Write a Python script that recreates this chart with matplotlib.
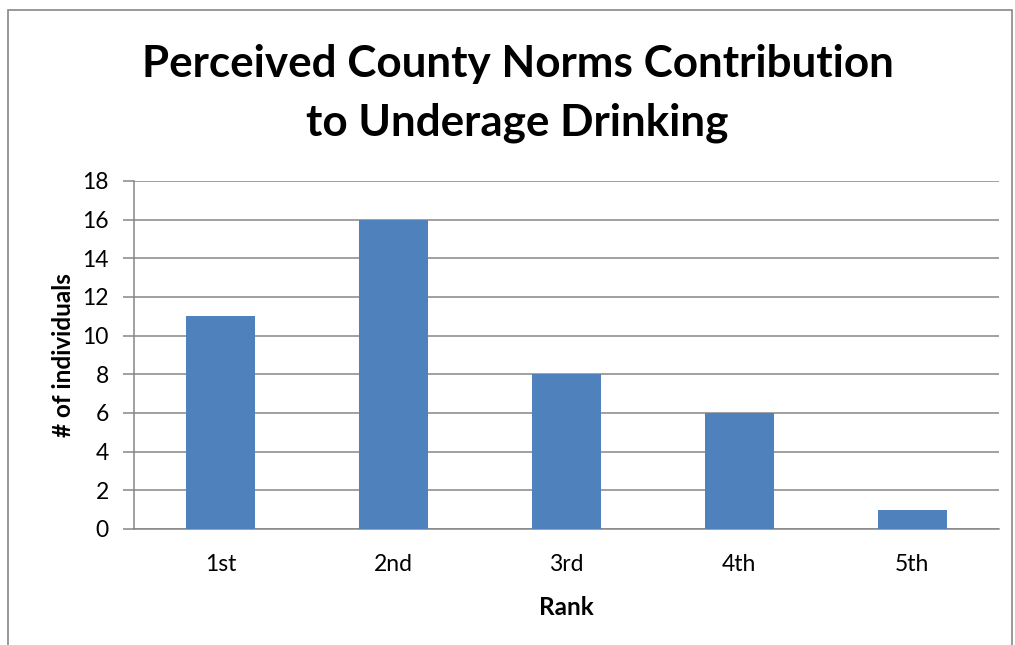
import matplotlib.pyplot as plt
from matplotlib.patches import Rectangle

ranks = ["1st", "2nd", "3rd", "4th", "5th"]
counts = [11, 16, 8, 6, 1]

plt.rcParams['font.family'] = ['Lato', 'DejaVu Sans']

fig = plt.figure(figsize=(10.15, 6.45), dpi=100)
ax = fig.add_axes([0.132, 0.180, 0.852, 0.5394])

grid_c = "#868686"
ax.bar(range(len(ranks)), counts, width=0.4, color="#4f81bd", zorder=3)
ax.set_xlim(-0.5, len(ranks) - 0.5)
ax.set_ylim(0, 18)
ax.set_yticks(range(0, 19, 2))
ax.set_xticks(range(len(ranks)))
ax.set_xticklabels(ranks)
ax.yaxis.grid(True, color=grid_c, linewidth=1.1, zorder=0)
for s in ["top", "right"]:
    ax.spines[s].set_visible(False)
for s in ["left", "bottom"]:
    ax.spines[s].set_color(grid_c)
    ax.spines[s].set_linewidth(1.1)
ax.tick_params(axis="y", length=8, width=1.1, color=grid_c, labelsize=16.5, pad=10)
ax.tick_params(axis="x", length=0, labelsize=16.5, pad=18)

ax.set_xlabel("Rank", fontsize=17.5, fontweight="bold", labelpad=15)
ax.set_ylabel("# of individuals", fontsize=17.5, fontweight="bold", labelpad=5)

fig.text(0.51, 0.855, "Perceived County Norms Contribution\nto Underage Drinking",
         ha="center", va="center", fontsize=31.7, fontweight="bold",
         linespacing=1.55)

# outer chart frame
fig.patches.append(Rectangle((8 / 1015, -0.01), 1004 / 1015, 1 - 10 / 645 + 0.01,
                             transform=fig.transFigure, fill=False,
                             edgecolor="#888888", linewidth=1.2))

fig.savefig("out.png", dpi=100)
